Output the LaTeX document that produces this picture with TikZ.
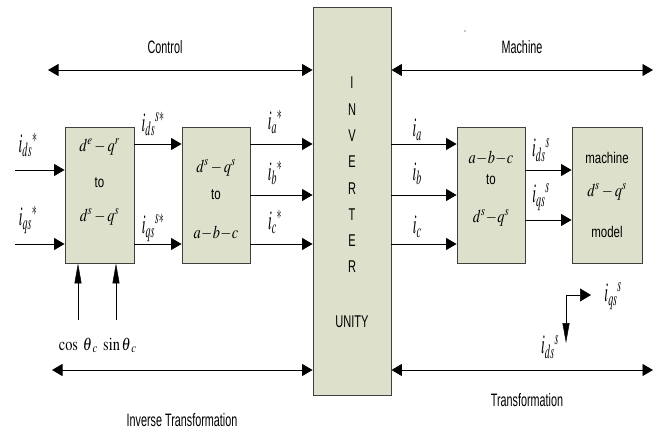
\documentclass[tikz,border=0pt]{standalone}
\usepackage{mathptmx}
\usepackage[no-math]{fontspec}
\setmainfont{Liberation Sans}
\usepackage{graphicx}
\usetikzlibrary{arrows.meta}
\definecolor{blockfill}{RGB}{221,224,202}
\newcommand{\nar}[2]{\scalebox{#1}[1]{#2}}
\newcommand{\ml}[1]{\nar{0.5}{$#1$}}
\newcommand{\mb}[1]{\nar{0.8}{$#1$}}
\tikzset{
  blk/.style={draw=black!75, fill=blockfill, line width=0.9pt, inner sep=0pt, rectangle},
  arr/.style={line width=0.9pt, -{Triangle[length=10.5pt,width=12pt]}},
  dbl/.style={line width=0.9pt, {Triangle[length=10.5pt,width=12pt]}-{Triangle[length=10.5pt,width=12pt]}},
  slim/.style={line width=0.5pt, -{Triangle[length=20pt,width=7pt]}},
  lbl/.style={inner sep=0pt, font=\fontsize{18}{20}\selectfont},
  boxtxt/.style={inner sep=0pt, font=\fontsize{15.5}{17}\selectfont},
  invtxt/.style={inner sep=0pt, font=\fontsize{17}{19}\selectfont},
  mlbl/.style={inner sep=0pt, font=\fontsize{27}{29}\selectfont},
  mbox/.style={inner sep=0pt, font=\fontsize{18}{20}\selectfont},
}
\begin{document}
\begin{tikzpicture}[x=1pt,y=-1pt]
\useasboundingbox (0,0) rectangle (661,430);

% blocks
\node[blk, minimum width=69pt, minimum height=136pt] (b1) at (99.5,195) {};
\node[blk, minimum width=68pt, minimum height=136pt] (b2) at (216,195) {};
\node[blk, minimum width=78pt, minimum height=388pt] (inv) at (352,201) {};
\node[blk, minimum width=68pt, minimum height=136pt] (b3) at (491,195) {};
\node[blk, minimum width=70pt, minimum height=136pt] (b4) at (607,195) {};

% block contents
\node[mbox] (t1a) at (99.5,147) {\mb{d^{e}-q^{r}}};
\node[boxtxt] (t1b) at (99.5,183) {\nar{0.74}{to}};
\node[mbox] (t1c) at (99.5,217) {\mb{d^{s}-q^{s}}};
\node[mbox] (t2a) at (216,168) {\mb{d^{s}-q^{s}}};
\node[boxtxt] (t2b) at (216,195) {\nar{0.74}{to}};
\node[mbox] (t2c) at (216,233) {\mb{a\!-\!b\!-\!c}};
\node[mbox] (t3a) at (491,158) {\mb{a\!-\!b\!-\!c}};
\node[boxtxt] (t3b) at (491,180) {\nar{0.74}{to}};
\node[mbox] (t3c) at (491,218) {\mb{d^{s}\!-\!q^{s}}};
\node[boxtxt] (t4a) at (607,158) {\nar{0.74}{machine}};
\node[mbox] (t4b) at (607,192) {\mb{d^{s}-q^{s}}};
\node[boxtxt] (t4c) at (607,232) {\nar{0.74}{model}};

% inverter lettering
\foreach \ch [count=\k] in {I,N,V,E,R,T,E,R}
  \node[invtxt] (l\k) at (352,{83+26.3*(\k-1)}) {\nar{0.65}{\ch}};
\node[invtxt] (unity) at (352,322) {\nar{0.65}{UNITY}};

% inputs
\coordinate (in1) at (15,170);
\coordinate (in2) at (15,244);
\draw[arr] (in1) -- (in1 -| b1.west);
\draw[arr] (in2) -- (in2 -| b1.west);

% block 1 -> block 2
\draw[arr] ([yshift=51pt]b1.east) coordinate (p1) -- (p1 -| b2.west);
\draw[arr] ([yshift=-49pt]b1.east) coordinate (p2) -- (p2 -| b2.west);

% block 2 -> inverter
\draw[arr] ([yshift=51pt]b2.east) coordinate (p3) -- (p3 -| inv.west);
\draw[arr] (b2.east) coordinate (p4) -- (p4 -| inv.west);
\draw[arr] ([yshift=-49pt]b2.east) coordinate (p5) -- (p5 -| inv.west);

% inverter -> block 3
\draw[arr] ([yshift=51pt]b3.west -| inv.east) coordinate (p6) -- (p6 -| b3.west);
\draw[arr] (b3.west -| inv.east) coordinate (p7) -- (p7 -| b3.west);
\draw[arr] ([yshift=-49pt]b3.west -| inv.east) coordinate (p8) -- (p8 -| b3.west);

% block 3 -> block 4
\draw[arr] ([yshift=25pt]b3.east) coordinate (p9) -- (p9 -| b4.west);
\draw[arr] ([yshift=-25pt]b3.east) coordinate (p10) -- (p10 -| b4.west);

% angle inputs
\coordinate (cs) at (78,320);
\coordinate (sn) at (116,320);
\draw[slim] (cs) -- (cs |- b1.south);
\draw[slim] (sn) -- (sn |- b1.south);
\node[mbox, anchor=base east] (cosl) at (98,350) {\mb{\cos\;\theta\kern0.8pt{}_{c}}};
\node[mbox, anchor=base west] (sinl) at (103,350) {\mb{\sin\theta\kern0.8pt{}_{c}}};

% region arrows
\coordinate (tl) at (48,70);
\coordinate (tr) at (653,70);
\coordinate (bl) at (52,370);
\coordinate (br) at (653,370);
\draw[dbl] (tl) -- (tl -| inv.west);
\draw[dbl] (tr -| inv.east) -- (tr);
\draw[dbl] (bl) -- (bl -| inv.west);
\draw[dbl] (br -| inv.east) -- (br);

\node[lbl] (ctrl) at (165,47) {\nar{0.6}{Control}};
\node[lbl] (mach) at (522,47) {\nar{0.6}{Machine}};
\node[lbl] (itr) at (182,420) {\nar{0.6}{Inverse Transformation}};
\node[lbl] (trn) at (527,400) {\nar{0.6}{Transformation}};
\fill (465,31) circle (0.6pt);

% stationary frame axes
\coordinate (ax) at (566,295);
\coordinate (axq) at (591,295);
\coordinate (axd) at (566,343);
\draw[line width=0.6pt, -{Triangle[length=11pt,width=13pt]}] (ax) -- (axq);
\draw[slim] (ax) -- (axd);

% signal labels
\node[mlbl] (lids) at (28,145) {\ml{i_{ds}{}^{*}}};
\node[mlbl] (liqs) at (28,220) {\ml{i_{qs}{}^{*}}};
\node[mlbl] (lidss) at (153,124) {\ml{i_{ds}{}^{s*}}};
\node[mlbl] (liqss) at (153,228) {\ml{i_{qs}{}^{s*}}};
\node[mlbl] (lia) at (275,122) {\ml{i_{a}{}^{*}}};
\node[mlbl] (lib) at (275,173) {\ml{i_{b}{}^{*}}};
\node[mlbl] (lic) at (275,222) {\ml{i_{c}{}^{*}}};
\node[mlbl] (ria) at (417,130) {\ml{i_{a}}};
\node[mlbl] (rib) at (417,174) {\ml{i_{b}}};
\node[mlbl] (ric) at (417,227) {\ml{i_{c}}};
\node[mlbl] (rids) at (541,150) {\ml{i_{ds}{}^{s}}};
\node[mlbl] (riqs) at (541,197) {\ml{i_{qs}{}^{s}}};
\node[mlbl] (aq) at (613,296) {\ml{i_{qs}{}^{s}}};
\node[mlbl] (ad) at (550,347) {\ml{i_{ds}{}^{s}}};
\end{tikzpicture}
\end{document}
